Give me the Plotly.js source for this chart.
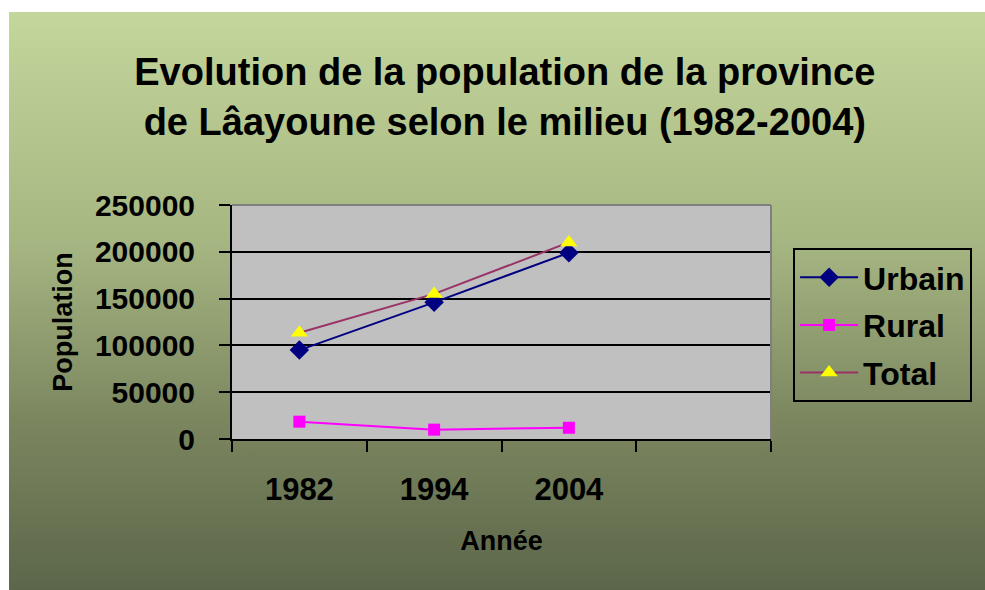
<!DOCTYPE html>
<html>
<head>
<meta charset="utf-8">
<script src="https://cdn.plot.ly/plotly-3.0.1.min.js"></script>
<style>
  html, body { margin: 0; padding: 0; background: #ffffff; width: 985px; height: 590px; overflow: hidden; }
  #chart { position: absolute; left: 9px; top: 12px; width: 976px; height: 578px;
           background: linear-gradient(to bottom, #c3d69b 0%, #a6b682 40%, #7c8760 70%, #5c664a 100%); }
</style>
</head>
<body>
<div id="chart"></div>
<script>
const years = ["1982", "1994", "2004"];
const urbain = [95000, 146000, 199000];
const rural = [18500, 10000, 12000];
const total = [113500, 155000, 210000];
const yTicks = [0, 50000, 100000, 150000, 200000, 250000];

const FONT = "Arial, 'Liberation Sans', sans-serif";
const categories = years.concat([" "]);

const traces = [
  { name: "Urbain", legendgroup: "u", x: years, y: urbain, type: "scatter", mode: "lines+markers",
    line: { color: "#000080", width: 2 },
    marker: { symbol: "diamond", size: 15, color: "#000080" } },
  { name: "Rural", legendgroup: "r", x: years, y: rural, type: "scatter", mode: "lines+markers",
    line: { color: "#FF00FF", width: 2 },
    marker: { symbol: "square", size: 12, color: "#FF00FF" } },
  { name: "Total", legendgroup: "t", x: years, y: total, type: "scatter", mode: "lines+markers",
    line: { color: "#993366", width: 2 },
    marker: { symbol: "triangle-up", size: 15, color: "#FFFF00" } }
];

const layout = {
  width: 976, height: 578,
  margin: { l: 223, t: 193, r: 214, b: 151, pad: 0 },
  paper_bgcolor: "rgba(0,0,0,0)",
  plot_bgcolor: "#C0C0C0",
  font: { family: FONT, color: "#000000", weight: "bold" },
  title: {
    text: "Evolution de la population de la province<br>de Lâayoune selon le milieu (1982-2004)",
    font: { family: FONT, size: 38, weight: "bold", color: "#000000" },
    xref: "container", x: 0.508, xanchor: "center",
    yref: "container", y: 0.873, yanchor: "middle"
  },
  xaxis: {
    type: "category",
    categoryorder: "array",
    categoryarray: categories,
    range: [-0.5, 3.5],
    tickson: "boundaries",
    ticks: "outside", ticklen: 11, tickwidth: 2, tickcolor: "#000000",
    showline: true, linecolor: "#000000", linewidth: 2,
    showgrid: false, zeroline: false,
    tickfont: { family: FONT, size: 31, weight: "bold" },
    ticklabelstandoff: 22,
    title: { text: "Année", font: { family: FONT, size: 27, weight: "bold" }, standoff: 25 },
    fixedrange: true
  },
  yaxis: {
    range: [0, 250000],
    tickmode: "array", tickvals: yTicks, ticktext: yTicks.map(String),
    ticks: "outside", ticklen: 11, tickwidth: 2, tickcolor: "#000000",
    showline: true, linecolor: "#000000", linewidth: 2,
    showgrid: true, gridcolor: "#000000", gridwidth: 2,
    zeroline: false,
    tickfont: { family: FONT, size: 30, weight: "bold" },
    ticklabelstandoff: 18,
    title: { text: "Population", font: { family: FONT, size: 27, weight: "bold" }, standoff: 14 },
    fixedrange: true
  },
  legend: {
    x: 1.041, xanchor: "left", y: 0.816, yanchor: "top",
    bgcolor: "rgba(0,0,0,0)", bordercolor: "#000000", borderwidth: 2,
    font: { family: FONT, size: 32, weight: "bold", color: "#000000" },
    itemwidth: 58, tracegroupgap: 3
  },
  shapes: [
    { type: "line", xref: "paper", yref: "paper", x0: 0, x1: 1, y0: 1, y1: 1,
      line: { color: "#808080", width: 2 }, layer: "above" },
    { type: "line", xref: "paper", yref: "paper", x0: 1, x1: 1, y0: 0, y1: 1,
      line: { color: "#808080", width: 2 }, layer: "above" }
  ],
  showlegend: true
};

Plotly.newPlot("chart", traces, layout, { displayModeBar: false, staticPlot: true });
</script>
</body>
</html>
